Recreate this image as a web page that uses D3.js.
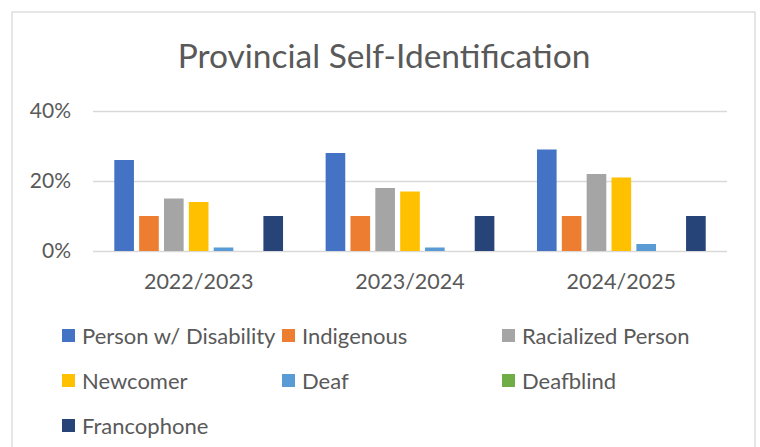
<!DOCTYPE html>
<html>
<head>
<meta charset="utf-8">
<script src="https://cdn.jsdelivr.net/npm/d3@7/dist/d3.min.js"></script>
<style>
  html, body { margin: 0; padding: 0; background: #fff; }
  svg { display: block; }
  text { font-family: Lato, "Open Sans", sans-serif; fill: #595959; }
</style>
</head>
<body>
<svg id="chart" width="760" height="447"></svg>
<script>
// Survey years shown along the x axis
const categories = ["2022/2023", "2023/2024", "2024/2025"];
// Self-identification groups, in legend order
const seriesNames = ["Person w/ Disability", "Indigenous", "Racialized Person", "Newcomer", "Deaf", "Deafblind", "Francophone"];
const seriesColors = ["#4472C4", "#ED7D31", "#A5A5A5", "#FFC000", "#5B9BD5", "#70AD47", "#264478"];
// Share of respondents per group, one value per year
const disability  = [0.26, 0.28, 0.29];
const indigenous  = [0.10, 0.10, 0.10];
const racialized  = [0.15, 0.18, 0.22];
const newcomer    = [0.14, 0.17, 0.21];
const deaf        = [0.01, 0.01, 0.02];
const deafblind   = [0.00, 0.00, 0.00];
const francophone = [0.10, 0.10, 0.10];
const yTicks = [0, 0.2, 0.4];

const seriesValues = [disability, indigenous, racialized, newcomer, deaf, deafblind, francophone];

const svg = d3.select("#chart");

// Chart frame
svg.append("rect")
  .attr("x", 12).attr("y", 12)
  .attr("width", 743).attr("height", 460)
  .attr("fill", "#fff")
  .attr("stroke", "#D9D9D9").attr("stroke-width", 1.3);

// Title
svg.append("text")
  .attr("x", 384).attr("y", 68)
  .attr("text-anchor", "middle")
  .style("font-size", "33.5px")
  .text("Provincial Self-Identification");

const plot = { left: 93, right: 727, top: 111, bottom: 251 };

const x0 = d3.scaleBand().domain(categories).range([plot.left, plot.right]);
const groupPad = 21.3;
const x1 = d3.scaleBand().domain(seriesNames)
  .range([groupPad, x0.bandwidth() - groupPad])
  .paddingInner(0.21).paddingOuter(0);
const y = d3.scaleLinear().domain([0, 0.4]).range([plot.bottom, plot.top]);

// Gridlines and y-axis labels
const yAxis = d3.axisLeft(y).tickValues(yTicks)
  .tickFormat(d3.format(".0%"))
  .tickSize(-(plot.right - plot.left)).tickPadding(22);
const gy = svg.append("g")
  .attr("transform", `translate(${plot.left},0)`)
  .call(yAxis);
gy.select(".domain").remove();
gy.selectAll(".tick line").attr("stroke", "#D9D9D9").attr("stroke-width", 1.3);
gy.selectAll(".tick text")
  .style("font-family", "Lato, 'Open Sans', sans-serif")
  .style("font-size", "21px").attr("fill", "#595959");

// Bars
const groups = svg.append("g").selectAll("g")
  .data(categories)
  .join("g")
  .attr("transform", d => `translate(${x0(d)},0)`);

groups.selectAll("rect")
  .data((c, ci) => seriesNames.map((s, si) => ({ s, si, v: seriesValues[si][ci] })))
  .join("rect")
  .attr("x", d => x1(d.s))
  .attr("width", x1.bandwidth())
  .attr("y", d => y(d.v))
  .attr("height", d => y(0) - y(d.v))
  .attr("fill", d => seriesColors[d.si]);

// Category axis labels
const xAxis = d3.axisBottom(x0).tickSize(0).tickPadding(23);
const gx = svg.append("g")
  .attr("transform", `translate(0,${plot.bottom})`)
  .call(xAxis);
gx.select(".domain").remove();
gx.selectAll(".tick text")
  .style("font-family", "Lato, 'Open Sans', sans-serif")
  .style("font-size", "21.5px").attr("fill", "#595959");

// Legend: three columns
const legend = svg.append("g");
const legItems = legend.selectAll("g")
  .data(seriesNames)
  .join("g")
  .attr("transform", (d, i) => `translate(${62 + (i % 3) * 220},${329 + Math.floor(i / 3) * 45})`);
legItems.append("rect")
  .attr("width", 13).attr("height", 13)
  .attr("fill", (d, i) => seriesColors[i]);
legItems.append("text")
  .attr("x", 20).attr("y", 14.5)
  .style("font-size", "22px")
  .text(d => d);
</script>
</body>
</html>
